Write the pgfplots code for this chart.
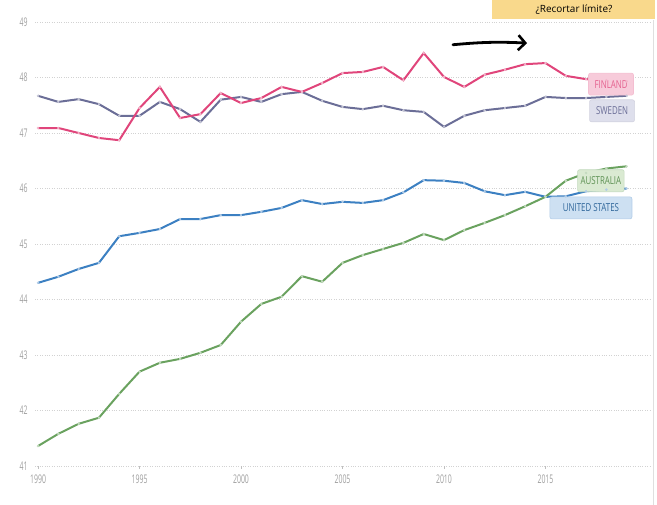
\documentclass[border=0pt]{standalone}
\usepackage{pgfplots}
\pgfplotsset{compat=1.18}
\usepackage{fontspec}
\setmainfont{Open Sans}
\newfontfamily\cond{Open Sans}[FakeStretch=0.58]
\newfontfamily\condl{Open Sans}[FakeStretch=0.72]
\usetikzlibrary{arrows.meta}
\definecolor{fin}{HTML}{E0457B}
\definecolor{finfill}{HTML}{F7CBDA}
\definecolor{swe}{HTML}{6B6E97}
\definecolor{swefill}{HTML}{DEDFEC}
\definecolor{aus}{HTML}{6AA25F}
\definecolor{ausfill}{HTML}{DAEAD2}
\definecolor{usa}{HTML}{3C80C2}
\definecolor{usafill}{HTML}{CDE0F2}
\definecolor{note}{HTML}{F9D98C}
\begin{document}
\begin{tikzpicture}[x=1bp,y=1bp]
\path[use as bounding box] (0,0) rectangle (657,505);
\begin{axis}[
  at={(35bp,39bp)}, anchor=south west, scale only axis,
  width=615bp, height=444bp,
  xmin=1989.85, xmax=2020.15, ymin=41, ymax=49,
  ytick={41,42,...,49}, xtick={1990,1995,...,2015},
  axis line style={draw=none},
  ymajorgrids, major grid style={gray!35, dotted, line width=0.9pt},
  ytick style={draw=none},
  xtick style={gray!50, line width=0.4pt},
  xtick pos=left, tick align=outside, major tick length=3bp,
  ticklabel style={font=\cond\fontsize{12}{14}\selectfont, text=gray!75},
  /pgf/number format/assume math mode=true,
  x tick label style={/pgf/number format/1000 sep={}, yshift=-2bp},
  y tick label style={xshift=-1bp},
  clip=false,
  every axis plot/.append style={line width=2bp, mark=*, mark size=1.1bp},
]
% Sweden
\addplot[swe, mark options={fill=white!60!swe, draw=white!60!swe, line width=0.3pt}] coordinates {
(1990,47.67)(1991,47.56)(1992,47.61)(1993,47.52)(1994,47.31)(1995,47.31)(1996,47.56)(1997,47.43)(1998,47.20)(1999,47.60)
(2000,47.65)(2001,47.56)(2002,47.70)(2003,47.74)(2004,47.58)(2005,47.47)(2006,47.43)(2007,47.49)(2008,47.41)(2009,47.38)
(2010,47.11)(2011,47.31)(2012,47.41)(2013,47.45)(2014,47.49)(2015,47.65)(2016,47.63)(2017,47.63)(2018,47.65)(2019,47.67)};
% Finland
\addplot[fin, mark options={fill=white!60!fin, draw=white!60!fin, line width=0.3pt}] coordinates {
(1990,47.09)(1991,47.09)(1992,47.00)(1993,46.91)(1994,46.87)(1995,47.45)(1996,47.83)(1997,47.27)(1998,47.34)(1999,47.72)
(2000,47.54)(2001,47.63)(2002,47.83)(2003,47.74)(2004,47.90)(2005,48.08)(2006,48.10)(2007,48.19)(2008,47.95)(2009,48.44)
(2010,48.01)(2011,47.83)(2012,48.05)(2013,48.14)(2014,48.24)(2015,48.26)(2016,48.03)(2017,47.97)(2018,47.95)(2019,47.93)};
% United States
\addplot[usa, mark options={fill=white!60!usa, draw=white!60!usa, line width=0.3pt}] coordinates {
(1990,44.30)(1991,44.41)(1992,44.55)(1993,44.66)(1994,45.14)(1995,45.20)(1996,45.27)(1997,45.45)(1998,45.45)(1999,45.52)
(2000,45.52)(2001,45.58)(2002,45.65)(2003,45.79)(2004,45.72)(2005,45.76)(2006,45.74)(2007,45.79)(2008,45.93)(2009,46.15)
(2010,46.14)(2011,46.10)(2012,45.95)(2013,45.88)(2014,45.94)(2015,45.85)(2016,45.86)(2017,45.95)(2018,45.98)(2019,46.00)};
% Australia
\addplot[aus, mark options={fill=white!60!aus, draw=white!60!aus, line width=0.3pt}] coordinates {
(1990,41.36)(1991,41.58)(1992,41.76)(1993,41.87)(1994,42.30)(1995,42.70)(1996,42.86)(1997,42.93)(1998,43.04)(1999,43.18)
(2000,43.60)(2001,43.92)(2002,44.05)(2003,44.42)(2004,44.32)(2005,44.66)(2006,44.80)(2007,44.91)(2008,45.02)(2009,45.18)
(2010,45.07)(2011,45.25)(2012,45.38)(2013,45.52)(2014,45.68)(2015,45.85)(2016,46.14)(2017,46.28)(2018,46.36)(2019,46.40)};
% series labels
\tikzset{lab/.style={rounded corners=2bp, line width=0.6bp, inner xsep=3bp, minimum height=22bp,
  font=\condl\fontsize{11}{13}\selectfont}}
\node[lab, fill=finfill, draw=fin!35, text=fin!85, minimum width=45bp] at (axis cs:2018.23,47.88) {FINLAND};
\node[lab, fill=swefill, draw=swe!30, text=swe, minimum width=45bp] at (axis cs:2018.28,47.40) {SWEDEN};
\node[lab, fill=ausfill, draw=aus!40, text=aus!90!black] at (axis cs:2017.73,46.14) {AUSTRALIA};
\node[lab, fill=usafill, draw=usa!40, text=usa!80!black, minimum width=82bp] at (axis cs:2017.24,45.65) {UNITED STATES};
% annotation arrow
\draw[black, line width=2.8bp, line cap=round, -{Straight Barb[length=7bp,width=15bp,line width=2.6bp]}]
  (axis cs:2010.44,48.59) to[bend left=4] (axis cs:2014.09,48.62);
\end{axis}
% screenshot frame and note
\draw[gray!25, line width=1bp] (653,0) -- (653,485);
\fill[note] (492,486) rectangle (655,505);
\node[font=\fontsize{10}{12}\selectfont, text=black] at (574,495.5) {¿Recortar límite?};
\end{tikzpicture}
\end{document}
